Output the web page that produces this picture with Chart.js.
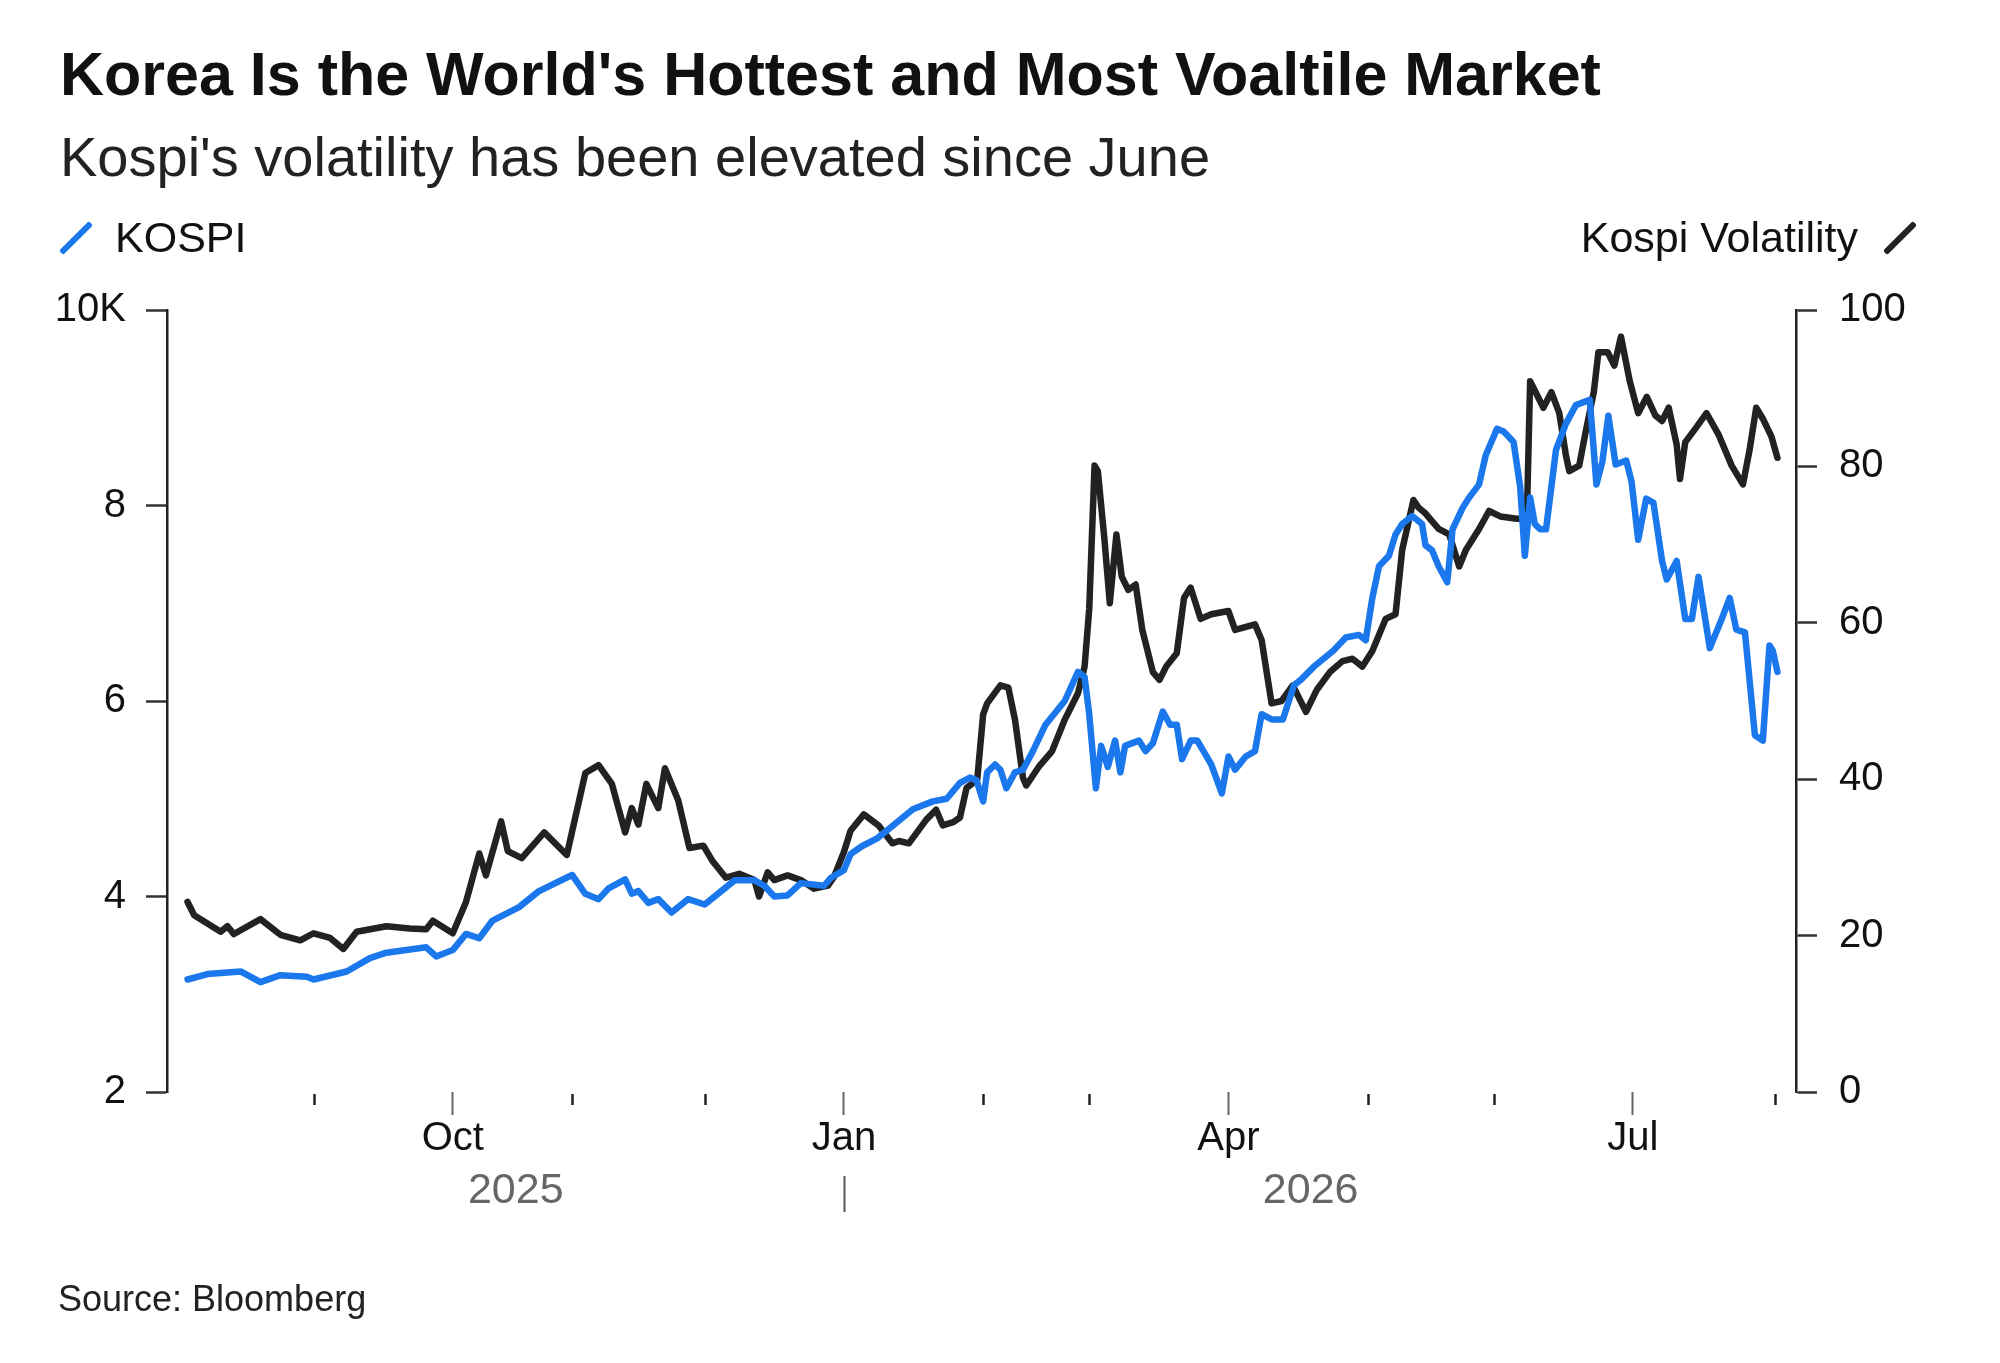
<!DOCTYPE html>
<html>
<head>
<meta charset="utf-8">
<script src="https://cdn.jsdelivr.net/npm/chart.js@4.4.1/dist/chart.umd.min.js"></script>
<style>
  html, body { margin: 0; padding: 0; background: #fff; }
  body { width: 2000px; height: 1363px; position: relative; overflow: hidden;
         font-family: "Liberation Sans", Arial, sans-serif; color: #111; }
  #wrap { position: absolute; left: 0; top: 0; width: 2000px; height: 1363px; }
  .txt { position: absolute; white-space: nowrap; }
  #title { left: 60px; top: 44px; font-size: 61px; line-height: 61px; font-weight: bold; }
  #subtitle { left: 60px; top: 129px; font-size: 56px; line-height: 56px; color: #222; }
  .leg { top: 216px; font-size: 43px; line-height: 43px; color: #111; }
  #legKospi { left: 115px; }
  #legVol { right: 142px; }
  .slash { position: absolute; width: 42px; height: 6px; border-radius: 2px; transform: rotate(-45deg); }
  #slashKospi { left: 55px; top: 235px; background: #1a78ec; }
  #slashVol { left: 1879px; top: 235px; background: #222; }
  #source { left: 58px; top: 1281px; font-size: 36px; line-height: 36px; color: #222; }
</style>
</head>
<body>
<div id="wrap"><canvas id="myChart"></canvas></div>
<div class="txt" id="title">Korea Is the World's Hottest and Most Voaltile Market</div>
<div class="txt" id="subtitle">Kospi's volatility has been elevated since June</div>
<div class="slash" id="slashKospi"></div>
<div class="txt leg" id="legKospi">KOSPI</div>
<div class="txt leg" id="legVol">Kospi Volatility</div>
<div class="slash" id="slashVol"></div>
<div class="txt" id="source">Source: Bloomberg</div>
<script>
  // x values are trading-day indices (Aug 2025 .. Jul 2026)
  const monthTickDays = [19, 40, 58, 78, 99, 120, 136, 157, 178, 197, 218, 239.5];
  const monthTickLabels = ['', 'Oct', '', '', 'Jan', '', '', 'Apr', '', '', 'Jul', ''];
  const yearLabels = ['2025', '2026'];
  const yearSplitDay = 99;

  const kospiDays = [0, 3, 8, 11, 14, 18, 19, 24, 27.5, 30, 36, 37.5, 40, 42, 44, 46, 50, 53, 58, 60,
    62, 63.5, 66, 67, 68, 69.5, 71, 73, 75.5, 78, 80.5, 82.5, 85.5, 87, 88.5, 90.5, 92.5, 96, 97, 99,
    100, 101.7, 104, 106, 109.4, 112.4, 114.5, 116.5, 118, 119, 120, 120.6, 121.8, 122.6, 123.5, 124.8, 126, 127.5, 129.4, 132.3,
    134.3, 135.3, 136, 137, 137.8, 138.8, 139.9, 140.7, 141.4, 143.5, 144.5, 145.6, 147.1, 148.2, 149.2, 150, 151.3, 152.3, 154.4, 156,
    157, 158, 159.6, 161, 162, 163.5, 165.2, 166.9, 167.9, 169.9, 172.8, 174.7, 176.7, 177.7, 178.7, 179.7, 181.2, 182.2, 183.2, 184.7,
    186.2, 186.7, 187.7, 188.7, 190, 190.8, 192.3, 193.3, 194.8, 195.8, 197.5, 198.5, 200, 201, 201.7, 202.5, 203.2, 204, 204.9, 206.4,
    207.9, 209.4, 211.5, 212.5, 213.4, 214.3, 215.4, 217, 217.8, 218.8, 220, 221.1, 222.4, 223.1, 224.6, 225.9, 226.9, 227.9, 229.6, 231.4,
    232.6, 233.6, 234.9, 236.4, 237.6, 238.6, 239.1, 239.8];
  const kospiValues = [3151, 3206, 3233, 3124, 3195, 3178, 3151, 3233, 3370, 3425, 3480, 3387, 3452, 3617, 3573, 3754, 3891, 4055, 4220, 4028,
    3973, 4083, 4176, 4028, 4055, 3935, 3973, 3836, 3973, 3918, 4055, 4165, 4165, 4110, 4000, 4011, 4137, 4110, 4189, 4270,
    4433, 4514, 4595, 4703, 4892, 4973, 5000, 5162, 5216, 5189, 4973, 5270, 5351, 5297, 5108, 5270, 5297, 5487, 5757, 6000,
    6298, 6244, 5865, 5108, 5541, 5325, 5595, 5270, 5541, 5595, 5487, 5568, 5892, 5757, 5757, 5405, 5595, 5595, 5351, 5054,
    5432, 5297, 5432, 5487, 5865, 5811, 5811, 6163, 6216, 6352, 6514, 6649, 6676, 6622, 7054, 7378, 7486, 7703, 7811, 7892,
    7811, 7595, 7541, 7378, 7216, 7757, 7973, 8081, 8216, 8514, 8784, 8757, 8649, 8189, 7486, 8081, 7811, 7757, 7757, 8568,
    8838, 9027, 9081, 8216, 8450, 8919, 8420, 8460, 8243, 7649, 8070, 8027, 7433, 7243, 7433, 6838, 6838, 7270, 6541, 6838,
    7054, 6730, 6703, 5649, 5595, 6568, 6514, 6298];

  const volDays = [0, 1, 5, 6, 7, 11, 14, 17, 19, 21.5, 23.5, 25.5, 30, 33.5, 36, 37, 40, 42, 44, 45,
    47.3, 48.3, 50.4, 53.8, 57.2, 60, 62, 64, 66, 67, 68, 69.2, 71, 72, 74, 75.7, 77.8, 79.2, 81.2, 83.2,
    85.5, 86.2, 87.5, 88.5, 90.5, 92.5, 94.5, 96.6, 97.5, 99, 100, 102, 104.2, 106.3, 107.3, 108.8, 111.4, 112.9, 113.9, 115.5,
    116.5, 117.5, 119.1, 120, 120.6, 122.6, 123.8, 124.8, 126, 126.5, 128.4, 130.4, 132.3, 134.3, 135.3, 136, 136.8, 137.3, 138.3, 139.1,
    140.1, 140.9, 141.9, 143, 144, 145.6, 146.6, 147.6, 149.2, 150.3, 151.3, 152.8, 154.4, 157, 158, 161, 162, 163.5, 165, 166.7,
    168.7, 170.3, 172.3, 174.2, 175.7, 177.2, 178.7, 180.7, 182.2, 183.2, 184.9, 185.7, 186.7, 188.7, 190.3, 191.8, 192.8, 194.8, 196.3, 198,
    200.5, 202, 202.5, 203.5, 204.5, 205.7, 206.9, 207.9, 208.4, 209.9, 210.8, 212.1, 212.8, 214.2, 215.2, 216.2, 217.5, 218.8, 220.1, 221.4,
    222.4, 223.4, 224.6, 225.1, 225.9, 227.4, 229.1, 230.9, 232.9, 234.6, 235.6, 236.6, 237.6, 238.9, 239.8];
  const volValues = [24.3, 22.6, 20.5, 21.2, 20.2, 22.1, 20.1, 19.4, 20.3, 19.7, 18.3, 20.5, 21.2, 20.9, 20.8, 21.9, 20.3, 24.3, 30.5, 27.7,
    34.6, 30.8, 29.9, 33.2, 30.3, 40.8, 41.8, 39.4, 33.2, 36.3, 34.2, 39.4, 36.3, 41.4, 37.3, 31.2, 31.5, 29.5, 27.4, 27.9,
    27.1, 25.0, 28.1, 27.1, 27.7, 27.1, 26.0, 26.4, 27.5, 30.7, 33.4, 35.5, 34.1, 31.8, 32.1, 31.8, 34.8, 36.1, 34.1, 34.5,
    35.1, 38.9, 39.9, 48.3, 49.7, 52.0, 51.7, 47.6, 40.2, 39.2, 41.6, 43.6, 47.6, 51.0, 54.4, 61.8, 80.1, 79.4, 70.6, 62.5,
    71.3, 65.9, 64.2, 64.9, 59.1, 53.7, 52.7, 54.4, 56.1, 63.2, 64.5, 60.5, 61.1, 61.5, 59.1, 59.8, 57.8, 49.7, 50.0, 52.0,
    48.6, 51.4, 53.7, 55.1, 55.4, 54.4, 56.4, 60.5, 61.1, 69.3, 75.7, 74.7, 74.0, 72.0, 71.3, 67.2, 69.3, 72.0, 74.3, 73.6,
    73.3, 73.3, 90.9, 89.2, 87.5, 89.5, 86.8, 81.4, 79.4, 80.1, 84.1, 89.5, 94.6, 94.6, 92.9, 96.6, 91.0, 86.8, 88.9, 86.5,
    85.8, 87.5, 82.8, 78.4, 83.1, 84.8, 86.8, 84.1, 80.1, 77.7, 82.1, 87.5, 86.1, 83.8, 81.1];

  const leftTicks = [2000, 4000, 6000, 8000, 10000];
  const rightTicks = [0, 20, 40, 60, 80, 100];

  const tickFont = { family: '"Liberation Sans", Arial, sans-serif', size: 40 };

  // short month ticks and the year row under the x axis
  const xExtras = {
    id: 'xExtras',
    afterDraw(chart) {
      const { ctx, chartArea, scales: { x } } = chart;
      ctx.save();
      ctx.strokeStyle = '#222';
      ctx.lineWidth = 2.5;
      monthTickDays.forEach((d, i) => {
        if (monthTickLabels[i]) return;
        const px = Math.round(x.getPixelForValue(d)) + 0.5;
        ctx.beginPath();
        ctx.moveTo(px, chartArea.bottom + 2);
        ctx.lineTo(px, chartArea.bottom + 13);
        ctx.stroke();
      });
      const x0 = x.getPixelForValue(kospiDays[0]);
      const xs = x.getPixelForValue(yearSplitDay);
      const x1 = x.getPixelForValue(kospiDays[kospiDays.length - 1]);
      ctx.fillStyle = '#666';
      ctx.font = '43px "Liberation Sans", Arial, sans-serif';
      ctx.textAlign = 'center';
      ctx.textBaseline = 'middle';
      ctx.fillText(yearLabels[0], (x0 + xs) / 2, 1191);
      ctx.fillText(yearLabels[1], (xs + x1) / 2, 1191);
      ctx.strokeStyle = '#555';
      ctx.lineWidth = 2;
      ctx.beginPath();
      ctx.moveTo(Math.round(xs) + 0.5, 1176);
      ctx.lineTo(Math.round(xs) + 0.5, 1212);
      ctx.stroke();
      ctx.restore();
    }
  };

  const ctx = document.getElementById('myChart').getContext('2d');

  const myChart = new Chart(ctx, {
    type: 'line',
    data: {
      datasets: [
        {
          label: 'KOSPI',
          data: kospiDays.map((d, i) => ({ x: d, y: kospiValues[i] })),
          yAxisID: 'y',
          borderColor: '#1a78ec',
          borderWidth: 6.5,
          borderJoinStyle: 'round',
          borderCapStyle: 'round',
          pointRadius: 0,
          tension: 0,
          order: 0
        },
        {
          label: 'Kospi Volatility',
          data: volDays.map((d, i) => ({ x: d, y: volValues[i] })),
          yAxisID: 'y1',
          borderColor: '#222222',
          borderWidth: 6.5,
          borderJoinStyle: 'round',
          borderCapStyle: 'round',
          pointRadius: 0,
          tension: 0,
          order: 1
        }
      ]
    },
    options: {
      responsive: true,
      maintainAspectRatio: false,
      animation: false,
      layout: { padding: { top: 310, left: 0, right: 0, bottom: 151 } },
      plugins: {
        legend: { display: false },
        tooltip: { enabled: false }
      },
      scales: {
        x: {
          type: 'linear',
          min: -3.1,
          max: 242.6,
          afterBuildTicks: s => { s.ticks = monthTickDays.map(v => ({ value: v })); },
          afterFit: s => { s.height = 120; },
          ticks: {
            autoSkip: false,
            maxRotation: 0,
            padding: 0,
            color: '#111',
            font: tickFont,
            callback: (v, i) => monthTickLabels[i]
          },
          grid: {
            drawOnChartArea: false,
            tickLength: 23,
            tickWidth: 2,
            tickColor: c => monthTickLabels[c.index] ? '#666' : 'rgba(0,0,0,0)'
          },
          border: { display: false }
        },
        y: {
          type: 'linear',
          position: 'left',
          min: 2000,
          max: 10000,
          afterBuildTicks: s => { s.ticks = leftTicks.map(v => ({ value: v })); },
          afterFit: s => { s.width = 167; },
          ticks: {
            padding: 20,
            color: '#111',
            font: tickFont,
            callback: v => v === 10000 ? '10K' : String(v / 1000)
          },
          grid: { drawOnChartArea: false, tickLength: 21, tickWidth: 2.5, tickColor: '#333' },
          border: { display: true, color: '#222', width: 2.5 }
        },
        y1: {
          type: 'linear',
          position: 'right',
          min: 0,
          max: 100,
          afterBuildTicks: s => { s.ticks = rightTicks.map(v => ({ value: v })); },
          afterFit: s => { s.width = 204; },
          ticks: { padding: 22, color: '#111', font: tickFont },
          grid: { drawOnChartArea: false, tickLength: 21, tickWidth: 2.5, tickColor: '#333' },
          border: { display: true, color: '#222', width: 2.5 }
        }
      }
    },
    plugins: [xExtras]
  });
</script>
</body>
</html>
